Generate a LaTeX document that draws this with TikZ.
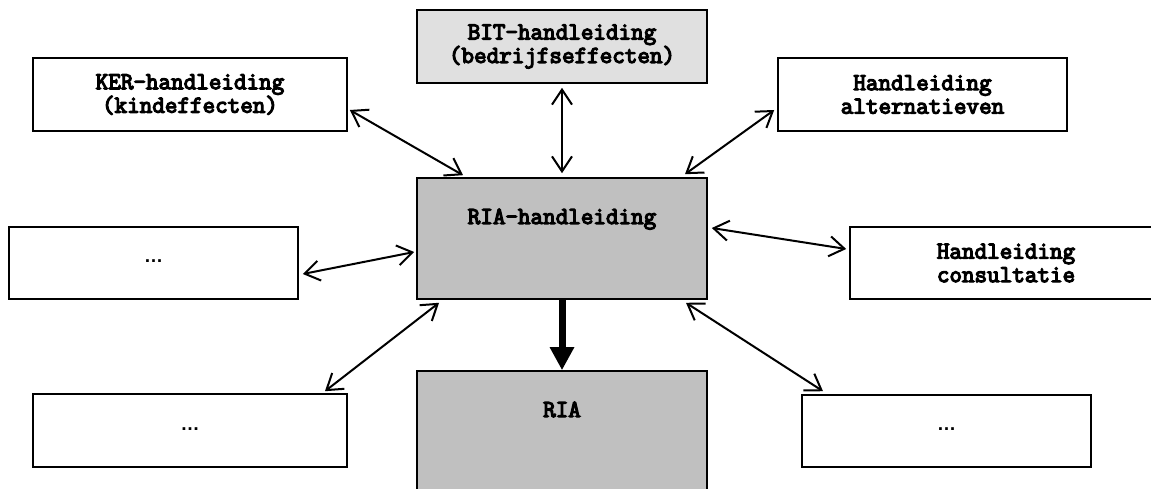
\documentclass[tikz,border=0pt]{standalone}
\usepackage{fontspec}
\newfontfamily\arialf{Liberation Sans}
\newfontfamily\courb[FakeBold=5]{Latin Modern Mono}
\usetikzlibrary{arrows.meta,calc}
\definecolor{lightbox}{RGB}{224,224,224}
\definecolor{midbox}{RGB}{192,192,192}
\begin{document}
\begin{tikzpicture}[x=1pt,y=-1pt,
  box/.style={draw, line width=1.6pt, rectangle, align=center, inner sep=0pt,
    font=\courb\fontsize{24.4}{23.5}\selectfont},
  dotbox/.style={draw, line width=1.6pt, rectangle, inner sep=0pt,
    font=\arialf\bfseries\fontsize{19}{20}\selectfont},
  topbox/.style={box, fill=midbox, text height=13pt, text depth=42pt},
  link/.style={line width=2pt,
    {Straight Barb[length=15pt,width=20pt]}-{Straight Barb[length=15pt,width=20pt]}},
  bigarrow/.style={line width=7pt, -{Triangle[length=23pt,width=23pt]}}
]
\useasboundingbox (0,0) rectangle (1151,489);
\node[box, minimum width=314pt, minimum height=73pt] (ker) at (190,94.5) {KER-handleiding\\(kindeffecten)};
\node[box, fill=lightbox, minimum width=290pt, minimum height=73pt] (bit) at (562,46.5) {BIT-handleiding\\(bedrijfseffecten)};
\node[box, minimum width=289pt, minimum height=73pt] (alt) at (922.5,94.5) {Handleiding\\alternatieven};
\node[topbox, minimum width=290pt, minimum height=121pt] (riah) at (562,238.5) {RIA-handleiding};
\node[box, minimum width=312pt, minimum height=72pt] (cons) at (1006,263) {Handleiding\\consultatie};
\node[dotbox, minimum width=289pt, minimum height=72pt] (l1) at (153.5,263) {\raisebox{3pt}{…}};
\node[dotbox, minimum width=314pt, minimum height=73pt] (l2) at (190,430.5) {\raisebox{3pt}{…}};
\node[dotbox, minimum width=289pt, minimum height=72pt] (r1) at (946.5,431) {\raisebox{3pt}{…}};
\node[topbox, minimum width=290pt, minimum height=121pt] (ria) at (562,431.5) {RIA};

\draw[link] ([shift={(2,15.5)}]ker.east) -- ([shift={(-99,-2)}]riah.north);
\draw[link] ([shift={(0,4)}]bit.south) -- ([shift={(0,-4)}]riah.north);
\draw[link] ([shift={(-3,15.5)}]alt.west) -- ([shift={(123,-3)}]riah.north);
\draw[link] ([shift={(4,-10.5)}]riah.east) -- ([shift={(-3,-14)}]cons.west);
\draw[link] ([shift={(4,11)}]l1.east) -- ([shift={(-2,13.5)}]riah.west);
\draw[link] ([shift={(135,-2)}]l2.north) -- ([shift={(-123,3)}]riah.south);
\draw[link] ([shift={(124,3)}]riah.south) -- ([shift={(-123.5,-3)}]r1.north);
\draw[bigarrow] (riah.south) -- (ria.north);
\end{tikzpicture}
\end{document}
